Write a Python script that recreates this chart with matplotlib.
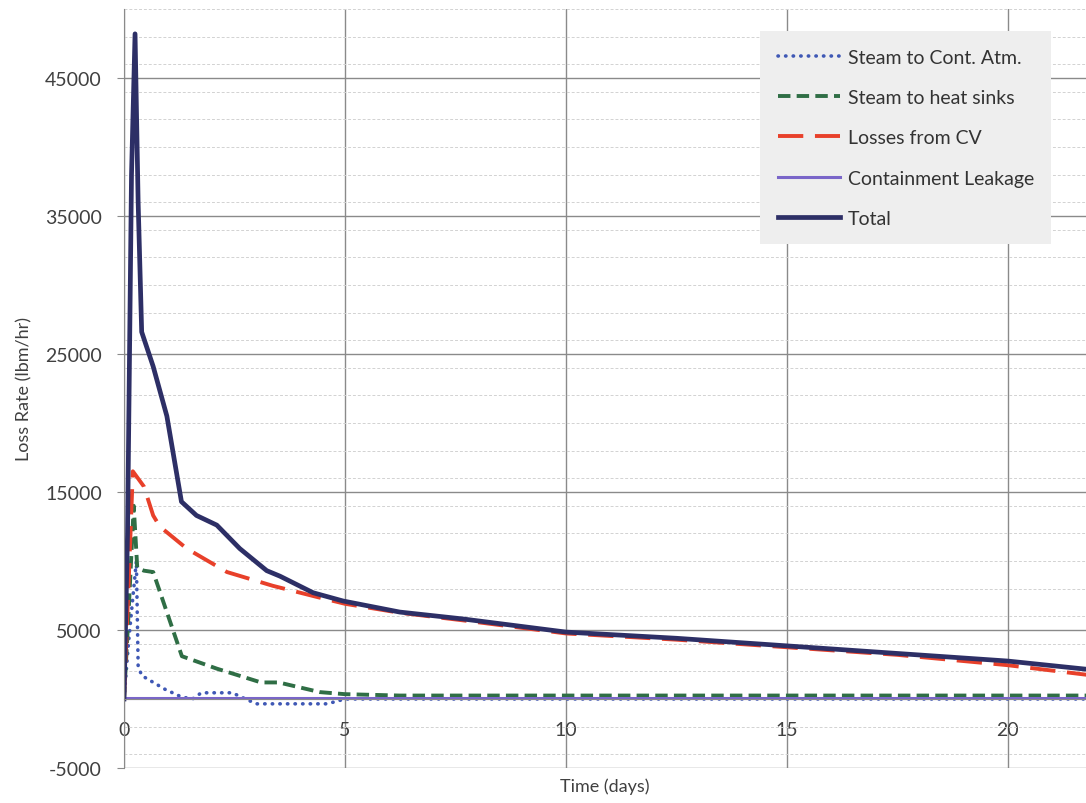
import numpy as np
import matplotlib.pyplot as plt
from matplotlib.ticker import MultipleLocator, FixedLocator

plt.rcParams['font.family'] = ['Lato', 'DejaVu Sans']
plt.rcParams['axes.unicode_minus'] = False

# 损失速率随时间变化 (days vs lbm/hr)
t_total = [0, 0.08, 0.17, 0.25, 0.32, 0.40, 0.66, 0.97, 1.30, 1.64, 2.10, 2.62, 3.23, 3.53,
           4.28, 4.96, 6.24, 7.67, 10.0, 12.5, 15.0, 17.5, 20.0, 21.8]
total = [0, 12000, 38000, 48200, 36000, 26600, 24100, 20500, 14300, 13300, 12600, 10900, 9300, 8900,
         7700, 7100, 6300, 5800, 4850, 4400, 3850, 3300, 2750, 2150]

t_cv = [0, 0.10, 0.20, 0.45, 0.66, 0.81, 1.42, 2.33, 3.37, 4.36, 5.0, 6.24, 7.67, 10.0, 12.5,
        15.0, 17.5, 20.0, 21.8]
cv = [0, 8000, 16500, 15400, 13300, 12500, 10900, 9200, 8200, 7400, 6900, 6250, 5700, 4750, 4300,
      3750, 3200, 2450, 1750]

t_hs = [0, 0.10, 0.22, 0.30, 0.45, 0.66, 1.31, 2.10, 3.10, 3.50, 4.43, 5.0, 6.24, 10.0, 15.0, 21.8]
hs = [0, 6000, 14000, 9500, 9300, 9200, 3100, 2200, 1200, 1200, 500, 350, 250, 250, 250, 250]

t_atm = [0, 0.10, 0.28, 0.32, 0.40, 0.93, 1.30, 1.55, 1.75, 2.45, 2.75, 3.0, 4.6, 5.0, 21.8]
atm = [0, 4000, 10000, 2400, 1700, 700, 150, 0, 450, 450, 0, -350, -350, 0, 0]

t_leak = [0, 21.8]
leak = [100, 100]

yticks = [-5000, 5000, 15000, 25000, 35000, 45000]
xticks = [0, 5, 10, 15, 20]

fig = plt.figure(figsize=(10.86, 8.04), dpi=100)
ax = fig.add_axes([124/1086, 1-769/804, 1-124/1086, (769-10)/804])

ax.plot(t_atm, atm, color='#3f58b5', lw=2.6, linestyle=(0, (0.1, 2.0)), dash_capstyle='round',
        label='Steam to Cont. Atm.')
ax.plot(t_hs, hs, color='#2f6e45', lw=2.8, linestyle=(0, (3.2, 1.6)), label='Steam to heat sinks')
ax.plot(t_cv, cv, color='#e8402a', lw=2.8, linestyle=(0, (6.5, 3)), label='Losses from CV')
ax.plot(t_leak, leak, color='#7a66c9', lw=2.2, label='Containment Leakage')
ax.plot(t_total, total, color='#2d2f66', lw=3.4, label='Total')

ax.set_xlim(0, 21.77)
ax.set_ylim(-5000, 50000)
ax.yaxis.set_major_locator(FixedLocator(yticks))
ax.yaxis.set_minor_locator(MultipleLocator(2000))
ax.xaxis.set_major_locator(FixedLocator(xticks))

ax.grid(which='major', color='#8a8a8a', lw=1.0)
ax.grid(which='minor', axis='y', color='#d2d2d2', lw=0.7, linestyle=(0, (3, 2)))
ax.set_axisbelow(True)

for s in ['top', 'right']:
    ax.spines[s].set_visible(False)
ax.spines['left'].set_color('#8a8a8a')
ax.spines['bottom'].set_position(('data', 0))
ax.spines['bottom'].set_color('#8a8a8a')

ax.tick_params(axis='y', which='major', length=5, color='#8a8a8a', pad=11, labelsize=14,
               labelcolor='#404040')
ax.tick_params(axis='y', which='minor', length=0)
ax.tick_params(axis='x', length=0, pad=16, labelsize=14, labelcolor='#404040')

ax.set_ylabel('Loss Rate (lbm/hr)', fontsize=13, color='#404040')
ax.yaxis.set_label_coords(-0.095, 0.5)
ax.set_xlabel('Time (days)', fontsize=13, color='#404040')
ax.xaxis.set_label_coords(0.5, -0.012)

leg = ax.legend(loc='upper left', bbox_to_anchor=(760/1086, 1-32/804), bbox_transform=fig.transFigure,
                borderaxespad=0, frameon=True, fancybox=False, fontsize=14, handlelength=3.2,
                handletextpad=0.4, labelspacing=1.2, borderpad=0.9)
leg.get_frame().set_facecolor('#eeeeee')
leg.get_frame().set_edgecolor('none')
leg.get_frame().set_alpha(1)
for txt in leg.get_texts():
    txt.set_color('#333333')

plt.savefig('out.png', dpi=100)
